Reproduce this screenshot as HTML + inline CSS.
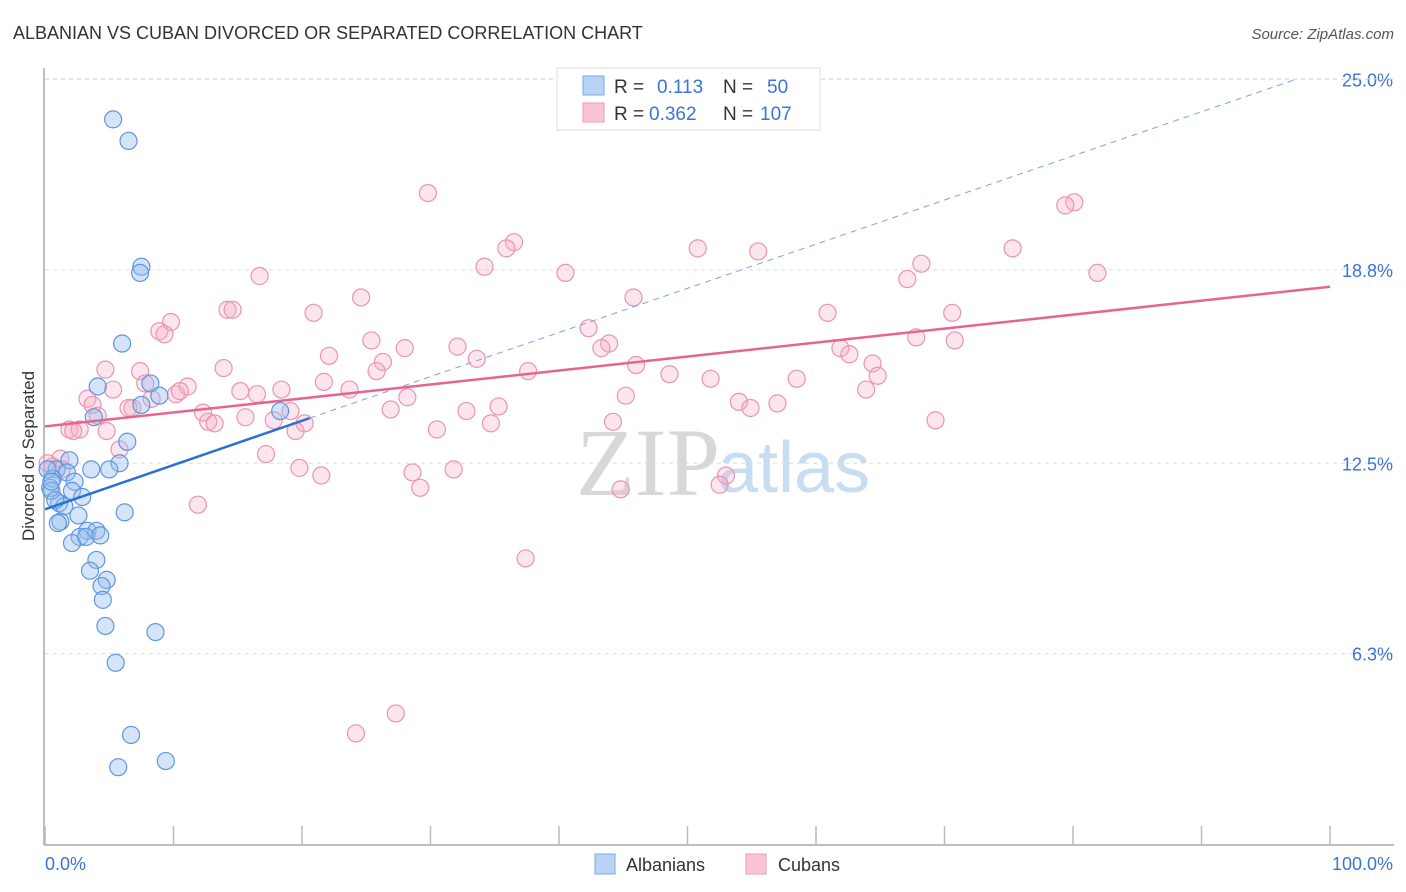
<!DOCTYPE html>
<html><head><meta charset="utf-8"><style>
body{margin:0;background:#fff;font-family:"Liberation Sans",sans-serif}
svg{display:block}
</style></head><body>
<svg id="chart" width="1406" height="892" xmlns="http://www.w3.org/2000/svg">
<text x="13" y="39" font-size="18" fill="#333">ALBANIAN VS CUBAN DIVORCED OR SEPARATED CORRELATION CHART</text>
<text x="1394" y="39" font-size="15" fill="#555" font-style="italic" text-anchor="end">Source: ZipAtlas.com</text>
<text x="34" y="456" font-size="17" fill="#333" text-anchor="middle" transform="rotate(-90 34 456)">Divorced or Separated</text>
<text x="720" y="495" font-size="96" fill="#d8d8d8" text-anchor="end" font-family="Liberation Serif,serif">ZIP</text>
<text x="718" y="492" font-size="72" fill="#c8dcf2">atlas</text>
<g id="grid"></g><g id="axes"></g><g id="pts"></g><g id="trend"></g>
<g>
<rect x="557" y="68" width="263" height="62" fill="#fff" stroke="#ddd"/>
<rect x="583" y="76" width="21" height="19" fill="#b8d3f5" stroke="#7aa8e8"/>
<rect x="583" y="103" width="21" height="19" fill="#fac4d4" stroke="#ee9bb5"/>
<text x="614" y="93" font-size="19" fill="#333">R = <tspan x="657" fill="#3b73d6">0.113</tspan><tspan x="723" fill="#333">N = </tspan><tspan x="767" fill="#3b73d6">50</tspan></text>
<text x="614" y="120" font-size="19" fill="#333">R = <tspan x="649" fill="#3b73d6">0.362</tspan><tspan x="723" fill="#333">N = </tspan><tspan x="760" fill="#3b73d6">107</tspan></text>
</g>
<g>
<rect x="595" y="854" width="20" height="20" fill="#b8d3f5" stroke="#7aa8e8"/>
<text x="626" y="871" font-size="18" fill="#333">Albanians</text>
<rect x="746" y="854" width="20" height="20" fill="#fac4d4" stroke="#ee9bb5"/>
<text x="778" y="871" font-size="18" fill="#333">Cubans</text>
</g>
</svg>
<script>
const yTicks=[25.0,18.8,12.5,6.3];
const yTickLabels=["25.0%","18.8%","12.5%","6.3%"];
const xTicks=[0,10,20,30,40,50,60,70,80,90,100];
const albX=[5.3,6.5,7.5,7.4,6.0,4.1,8.2,8.9,7.5,3.8,18.3,6.4,1.9,5.8,3.6,5.0,0.9,1.7,2.3,0.6,0.4,2.1,2.9,1.1,1.5,6.2,2.6,1.2,1.0,3.3,4.0,2.7,2.1,4.0,3.5,4.8,4.4,4.5,4.7,8.6,5.5,6.7,5.7,9.4,0.5,0.2,0.8,3.2,4.3,0.5];
const albY=[23.7,23.0,18.9,18.7,16.4,15.0,15.1,14.7,14.4,14.0,14.2,13.2,12.6,12.5,12.3,12.3,12.3,12.2,11.9,12.0,11.7,11.6,11.4,11.2,11.1,10.9,10.8,10.6,10.55,10.3,10.3,10.1,9.9,9.35,9.0,8.7,8.5,8.05,7.2,7.0,6.0,3.65,2.6,2.8,11.6,12.3,11.3,10.1,10.15,11.9];
const cubX=[29.8,80.1,79.4,36.5,35.9,50.8,55.5,34.2,40.5,68.2,75.3,81.9,16.7,67.1,24.6,45.8,14.2,14.6,20.9,9.8,60.9,70.6,8.9,9.3,42.3,25.4,67.8,70.8,43.9,28.0,32.1,22.1,43.3,61.9,62.6,33.6,26.3,64.4,46.0,13.9,4.7,25.8,7.4,37.6,48.6,64.8,51.8,58.5,21.7,7.8,11.1,15.2,18.4,23.7,5.3,16.5,10.2,63.9,45.2,10.5,28.2,3.3,3.7,19.1,6.8,54.0,57.0,6.5,8.3,35.3,54.9,32.8,26.9,4.1,15.6,12.3,12.7,17.8,13.2,20.2,34.7,44.2,69.3,1.9,2.7,2.2,30.5,19.5,5.8,17.2,1.2,19.8,0.6,0.2,1.3,28.6,31.8,53.0,21.5,52.5,29.2,44.8,11.9,37.4,27.3,24.2,4.8];
const cubY=[21.3,21.0,20.9,19.7,19.5,19.5,19.4,18.9,18.7,19.0,19.5,18.7,18.6,18.5,17.9,17.9,17.5,17.5,17.4,17.1,17.4,17.4,16.8,16.7,16.9,16.5,16.6,16.5,16.4,16.25,16.3,16.0,16.25,16.25,16.05,15.9,15.8,15.75,15.7,15.6,15.55,15.5,15.5,15.5,15.4,15.35,15.25,15.25,15.15,15.1,15.0,14.85,14.9,14.9,14.9,14.75,14.75,14.9,14.7,14.85,14.65,14.6,14.4,14.2,14.3,14.5,14.45,14.3,14.6,14.35,14.3,14.2,14.25,14.05,14.0,14.15,13.85,13.9,13.8,13.8,13.8,13.85,13.9,13.6,13.6,13.55,13.6,13.55,12.95,12.8,12.65,12.35,12.4,12.5,12.3,12.2,12.3,12.1,12.1,11.8,11.7,11.65,11.15,9.4,4.35,3.7,13.55];
const albTrend={x0:0,y0:11.0,x1:20.6,y1:13.97,xEnd:97.3,yEnd:25.0};
const cubTrend={x0:0,y0:13.7,x1:100,y1:18.25};
const NS="http://www.w3.org/2000/svg";
const L=45,R=1330,B=847,PX=(R-L)/100,PY=30.7;
const sx=v=>L+v*PX, sy=v=>B-v*PY;
function mk(tag,attrs,parent){const e=document.createElementNS(NS,tag);for(const k in attrs)e.setAttribute(k,attrs[k]);parent.appendChild(e);return e;}
const grid=document.getElementById('grid'),axes=document.getElementById('axes'),pts=document.getElementById('pts'),trend=document.getElementById('trend');
yTicks.forEach((t,i)=>{
 const g=mk('line',{x1:L,x2:1394,y1:sy(t),y2:sy(t),stroke:'#ddd','stroke-dasharray':'4,4'},grid);
 
 
 const tx=mk('text',{x:1393,y:sy(t)+7,'font-size':18,fill:'#3b73d6','text-anchor':'end'},grid);
 tx.textContent=yTickLabels[i];
 
 
});
const topG=mk('line',{x1:L,x2:1394,y1:79,y2:79,stroke:'#ddd','stroke-dasharray':'4,4'},grid);


const ya=mk('line',{x1:44,x2:44,y1:68,y2:845,stroke:'#aaa','stroke-width':1.5},axes);


const xa=mk('line',{x1:44,x2:1394,y1:845,y2:845,stroke:'#aaa','stroke-width':1.5},axes);


xTicks.forEach(t=>{
 const tk=mk('line',{x1:sx(t),x2:sx(t),y1:826,y2:845,stroke:'#bbb','stroke-width':1.5},axes);
 
 
});
const xl0=mk('text',{x:45,y:870,'font-size':18,fill:'#3b73d6'},axes);xl0.textContent='0.0%';


const xl1=mk('text',{x:1393,y:870,'font-size':18,fill:'#3b73d6','text-anchor':'end'},axes);xl1.textContent='100.0%';


cubX.forEach((x,i)=>{
 const c=mk('circle',{cx:sx(x),cy:sy(cubY[i]),r:8.5,fill:'rgba(247,170,195,0.3)',stroke:'#eb94b0','stroke-width':1.2},pts);
 
 
});
albX.forEach((x,i)=>{
 const c=mk('circle',{cx:sx(x),cy:sy(albY[i]),r:8.5,fill:'rgba(150,190,240,0.4)',stroke:'#5f95e0','stroke-width':1.2},pts);
 
 
});
const t1=mk('line',{x1:sx(albTrend.x1),y1:sy(albTrend.y1),x2:sx(albTrend.xEnd),y2:sy(albTrend.yEnd),stroke:'#7aa3e0','stroke-width':1,'stroke-dasharray':'6,5'},trend);


const t2=mk('line',{x1:sx(albTrend.x0),y1:sy(albTrend.y0),x2:sx(albTrend.x1),y2:sy(albTrend.y1),stroke:'#2a6fd6','stroke-width':2.5},trend);


const t3=mk('line',{x1:sx(cubTrend.x0),y1:sy(cubTrend.y0),x2:sx(cubTrend.x1),y2:sy(cubTrend.y1),stroke:'#e7648f','stroke-width':2.5},trend);


</script>
</body></html>
